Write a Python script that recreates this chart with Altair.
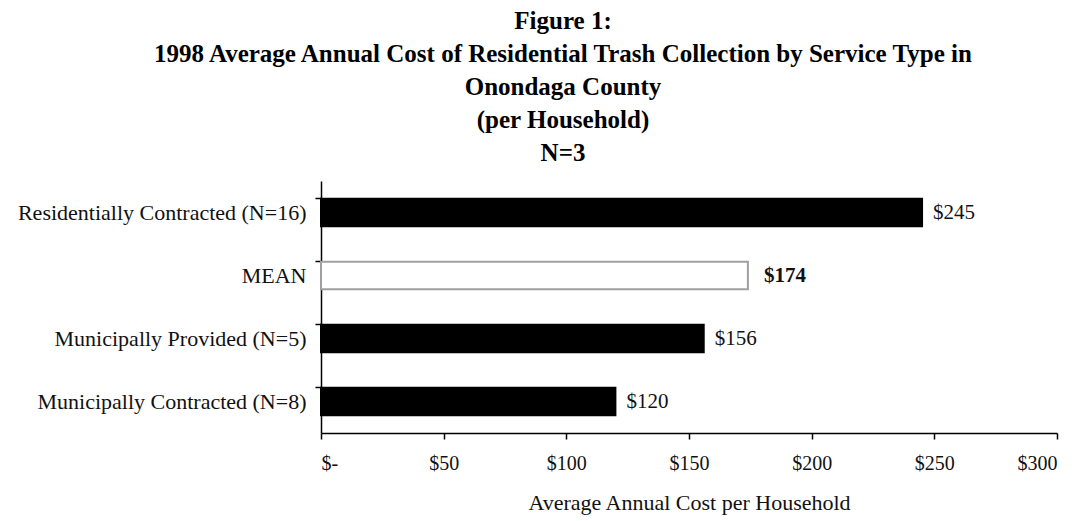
import altair as alt
import pandas as pd

categories = ["Residentially Contracted (N=16)", "MEAN", "Municipally Provided (N=5)", "Municipally Contracted (N=8)"]
values = [245, 174, 156, 120]
is_mean = [False, True, False, False]
x_ticks = [0, 50, 100, 150, 200, 250, 300]
title_lines = ["Figure 1:",
               "1998 Average Annual Cost of Residential Trash Collection by Service Type in",
               "Onondaga County", "(per Household)", "N=3"]

df = pd.DataFrame({"cat": categories, "value": values, "mean": is_mean})
df["label"] = ["$" + str(v) for v in values]

FONT = "Liberation Serif"

y_enc = alt.Y("cat:N", sort=categories, title=None,
              scale=alt.Scale(paddingInner=0.56, paddingOuter=0.28),
              axis=alt.Axis(labelFont=FONT, labelFontSize=22, labelColor="#111",
                            labelPadding=9, tickSize=6, tickColor="#000",
                            domainColor="#000", bandPosition=0, tickWidth=1.5,
                            domainWidth=1.5, labelLimit=0))
x_enc = alt.X("value:Q", title="Average Annual Cost per Household",
              scale=alt.Scale(domain=[0, 300], nice=False),
              axis=alt.Axis(values=x_ticks,
                            labelExpr="datum.value == 0 ? '$-' : '$' + datum.value",
                            labelFont=FONT, labelFontSize=20, labelColor="#111",
                            labelPadding=14, tickSize=6, tickColor="#000",
                            domainColor="#000", grid=False, tickWidth=1.5,
                            domainWidth=1.5, titleFont=FONT, titleFontSize=22,
                            titleFontWeight="normal", titleColor="#111", titlePadding=19))

base = alt.Chart(df)

bars = base.mark_bar(strokeWidth=2).encode(
    x=x_enc, y=y_enc,
    fill=alt.condition("datum.mean", alt.value("#ffffff"), alt.value("#000000")),
    stroke=alt.condition("datum.mean", alt.value("#a0a0a0"), alt.value("#000000")),
)

labels = base.transform_filter("!datum.mean").mark_text(
    align="left", dx=11, font=FONT, fontSize=21, color="#111").encode(
    x="value:Q", y=alt.Y("cat:N", sort=categories), text="label:N")

mean_label = base.transform_filter("datum.mean").mark_text(
    align="left", dx=16, font=FONT, fontSize=21, fontWeight="bold", color="#111").encode(
    x="value:Q", y=alt.Y("cat:N", sort=categories), text="label:N")

chart = alt.layer(bars, labels, mean_label).properties(
    width=736, height=252,
    autosize=alt.AutoSizeParams(type="none"),
    padding={"left": 313, "top": 173, "right": 17, "bottom": 89},
    background="white",
    title=alt.TitleParams(title_lines, font=FONT, fontSize=25, fontWeight="bold",
                          color="#000", lineHeight=33, anchor="middle",
                          frame="group", dx=-126, offset=15),
).configure_view(stroke=None)

chart.save("out.html", embed_options={"renderer": "svg", "actions": False})
